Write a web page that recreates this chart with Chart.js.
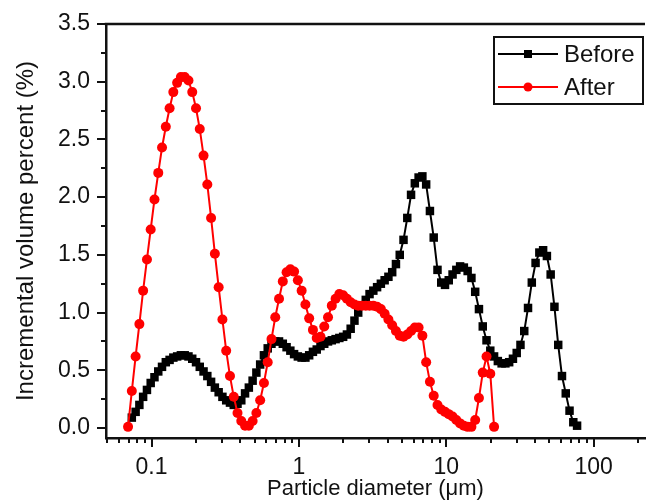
<!DOCTYPE html>
<html>
<head>
<meta charset="utf-8">
<script src="https://cdn.jsdelivr.net/npm/chart.js@4.4.1/dist/chart.umd.min.js"></script>
<style>
  html, body { margin: 0; padding: 0; background: #fff; }
</style>
</head>
<body>
<canvas id="psd" width="651" height="504"></canvas>
<script>
// particle diameter of each channel (um)
const diameters = [
  0.0693, 0.0735, 0.0780, 0.0827, 0.0877, 0.0931, 0.0987, 0.1047, 0.1111, 0.1178,
  0.1250, 0.1326, 0.1406, 0.1492, 0.1582, 0.1679, 0.1781, 0.1889, 0.2004, 0.2125,
  0.2254, 0.2391, 0.2536, 0.2690, 0.2854, 0.3027, 0.3211, 0.3406, 0.3613, 0.3832,
  0.4065, 0.4312, 0.4574, 0.4852, 0.5146, 0.5459, 0.5790, 0.6142, 0.6515, 0.6911,
  0.7331, 0.7776, 0.8248, 0.8749, 0.9275, 0.9838, 1.0435, 1.107, 1.174, 1.245,
  1.321, 1.401, 1.486, 1.576, 1.672, 1.774, 1.881, 1.996, 2.117, 2.245,
  2.382, 2.526, 2.680, 2.842, 3.015, 3.198, 3.392, 3.598, 3.817, 4.049,
  4.295, 4.555, 4.832, 5.126, 5.437, 5.767, 6.118, 6.489, 6.883, 7.302,
  7.745, 8.216, 8.715, 9.244, 9.802, 10.39, 11.03, 11.70, 12.41, 13.16,
  13.96, 14.81, 15.71, 16.66, 17.68, 18.75, 19.89, 21.10, 22.38, 23.74,
  25.18, 26.71, 28.33, 30.05, 31.87, 33.81, 35.86, 38.04, 40.35, 42.80,
  45.40, 48.16, 51.08, 54.18, 57.47, 60.96, 64.66, 68.59, 72.75, 77.17
];

// incremental volume percent, before treatment
const beforeVals = [
  null, 0.09, 0.14, 0.20, 0.27, 0.33, 0.39, 0.44, 0.49, 0.53,
  0.57, 0.59, 0.61, 0.62, 0.63, 0.63, 0.62, 0.60, 0.57, 0.53,
  0.49, 0.45, 0.40, 0.35, 0.31, 0.27, 0.24, 0.22, 0.20, 0.21,
  0.24, 0.30, 0.35, 0.41, 0.48, 0.55, 0.63, 0.69, 0.73, 0.75,
  0.75, 0.73, 0.70, 0.67, 0.64, 0.62, 0.61, 0.61, 0.63, 0.66,
  0.68, 0.71, 0.73, 0.75, 0.76, 0.77, 0.78, 0.79, 0.81, 0.86,
  0.93, 1.00, 1.06, 1.11, 1.16, 1.19, 1.22, 1.25, 1.28, 1.31,
  1.35, 1.42, 1.50, 1.63, 1.82, 2.02, 2.12, 2.17, 2.18, 2.11,
  1.88, 1.65, 1.37, 1.26, 1.24, 1.28, 1.33, 1.37, 1.40, 1.39,
  1.36, 1.30, 1.18, 1.03, 0.88, 0.76, 0.67, 0.62, 0.58, 0.56,
  0.56, 0.57, 0.60, 0.65, 0.72, 0.84, 1.04, 1.26, 1.43, 1.52,
  1.54, 1.49, 1.33, 1.05, 0.72, 0.45, 0.30, 0.15, 0.05, 0.02
];

// incremental volume percent, after treatment
const afterVals = [
  0.01, 0.32, 0.62, 0.90, 1.19, 1.46, 1.72, 1.98, 2.21, 2.43,
  2.61, 2.77, 2.91, 2.99, 3.04, 3.04, 3.01, 2.91, 2.77, 2.59,
  2.36, 2.11, 1.82, 1.51, 1.22, 0.94, 0.67, 0.45, 0.27, 0.13,
  0.06, 0.02, 0.02, 0.06, 0.13, 0.24, 0.39, 0.57, 0.77, 0.96,
  1.12, 1.27, 1.35, 1.375, 1.355, 1.28, 1.19, 1.07, 0.95, 0.85,
  0.78, 0.79, 0.88, 0.96, 1.06, 1.12, 1.16, 1.15, 1.12, 1.09,
  1.07, 1.06, 1.06, 1.06, 1.06, 1.06, 1.05, 1.03, 0.99, 0.94,
  0.89, 0.84, 0.80, 0.79, 0.81, 0.84, 0.87, 0.87, 0.80, 0.57,
  0.40, 0.28, 0.20, 0.16, 0.14, 0.12, 0.10, 0.07, 0.04, 0.02,
  0.01, 0.01, 0.07, 0.26, 0.48, 0.62, 0.47, 0.01
];

const seriesNames = ['Before', 'After'];
const xTickVals = [0.1, 1, 10, 100];
const xMinorVals = [0.05, 0.06, 0.07, 0.08, 0.09, 0.2, 0.3, 0.4, 0.5, 0.6, 0.7, 0.8, 0.9,
  2, 3, 4, 5, 6, 7, 8, 9, 20, 30, 40, 50, 60, 70, 80, 90, 200];
const yTickVals = [0, 0.5, 1.0, 1.5, 2.0, 2.5, 3.0, 3.5];
const yMinorVals = [0.25, 0.75, 1.25, 1.75, 2.25, 2.75, 3.25];

const FONT = "'Liberation Sans', Arial, sans-serif";
const INK = '#111';

function toPoints(vals) {
  const pts = [];
  vals.forEach((v, i) => { if (v !== null) pts.push({ x: diameters[i], y: v }); });
  return pts;
}

// outward tick marks + top frame line
const frame = {
  id: 'frame',
  afterDraw(chart) {
    const { ctx, chartArea: a, scales: { x, y } } = chart;
    ctx.save();
    ctx.strokeStyle = INK;
    ctx.lineWidth = 2.5;
    ctx.beginPath();
    ctx.moveTo(a.left - 1.25, a.top);
    ctx.lineTo(a.right, a.top);
    ctx.stroke();

    ctx.lineWidth = 2;
    ctx.beginPath();
    xTickVals.forEach(v => {
      const px = Math.round(x.getPixelForValue(v));
      ctx.moveTo(px, a.bottom); ctx.lineTo(px, a.bottom + 9);
    });
    xMinorVals.forEach(v => {
      const px = Math.round(x.getPixelForValue(v));
      if (px <= a.left || px > a.right) return;
      ctx.moveTo(px, a.bottom); ctx.lineTo(px, a.bottom + 5);
    });
    yTickVals.forEach(v => {
      const py = Math.round(y.getPixelForValue(v));
      ctx.moveTo(a.left, py); ctx.lineTo(a.left - 9, py);
    });
    yMinorVals.forEach(v => {
      const py = Math.round(y.getPixelForValue(v));
      ctx.moveTo(a.left, py); ctx.lineTo(a.left - 5, py);
    });
    ctx.stroke();
    ctx.restore();
  }
};

// boxed legend in the upper right corner
const boxLegend = {
  id: 'boxLegend',
  afterDraw(chart) {
    const ctx = chart.ctx;
    const left = 494, top = 37, w = 149, h = 67;
    ctx.save();
    ctx.fillStyle = '#fff';
    ctx.fillRect(left, top, w, h);
    ctx.strokeStyle = INK;
    ctx.lineWidth = 2;
    ctx.strokeRect(left, top, w, h);
    ctx.font = '24px ' + FONT;
    ctx.textBaseline = 'middle';
    chart.data.datasets.forEach((ds, i) => {
      const cy = top + 17 + i * 33;
      ctx.strokeStyle = ds.borderColor;
      ctx.lineWidth = 2;
      ctx.beginPath();
      ctx.moveTo(left + 4, cy); ctx.lineTo(left + 64, cy);
      ctx.stroke();
      ctx.fillStyle = ds.backgroundColor;
      if (ds.pointStyle === 'rect') {
        ctx.fillRect(left + 30, cy - 4, 8, 8);
      } else {
        ctx.beginPath();
        ctx.arc(left + 34, cy, 4.5, 0, Math.PI * 2);
        ctx.fill();
      }
      ctx.fillStyle = INK;
      ctx.fillText(ds.label, left + 70, cy + 1);
    });
    ctx.restore();
  }
};

new Chart(document.getElementById('psd'), {
  type: 'line',
  data: {
    datasets: [
      {
        label: seriesNames[0],
        data: toPoints(beforeVals),
        borderColor: '#000',
        backgroundColor: '#000',
        borderWidth: 2,
        pointStyle: 'rect',
        pointRadius: 6,
        pointBorderWidth: 0,
        order: 2
      },
      {
        label: seriesNames[1],
        data: toPoints(afterVals),
        borderColor: '#ff0000',
        backgroundColor: '#ff0000',
        borderWidth: 2,
        pointStyle: 'circle',
        pointRadius: 5,
        pointBorderWidth: 0,
        order: 1
      }
    ]
  },
  options: {
    responsive: false,
    animation: false,
    layout: { padding: { top: 24, right: 0, left: 0, bottom: 0 } },
    plugins: { legend: { display: false }, tooltip: { enabled: false } },
    scales: {
      x: {
        type: 'logarithmic',
        min: 0.0491,
        max: 223,
        afterBuildTicks: s => { s.ticks = xTickVals.map(v => ({ value: v, major: true })); },
        afterFit: s => { s.height = 66; s.paddingLeft = 0; s.paddingRight = 0; },
        grid: { drawOnChartArea: false, drawTicks: false },
        border: { color: INK, width: 2.5 },
        ticks: {
          color: INK, font: { family: FONT, size: 23 }, padding: 16,
          maxRotation: 0, autoSkip: false,
          callback: v => String(v)
        },
        title: {
          display: true, text: 'Particle diameter (μm)', color: INK,
          font: { family: FONT, size: 22 }, padding: { top: 0, bottom: 2 }
        }
      },
      y: {
        min: -0.0866,
        max: 3.5,
        afterBuildTicks: s => { s.ticks = yTickVals.map(v => ({ value: v })); },
        afterFit: s => { s.width = 106; s.paddingTop = 0; s.paddingBottom = 0; },
        grid: { drawOnChartArea: false, drawTicks: false },
        border: { color: INK, width: 2.5 },
        ticks: {
          color: INK, font: { family: FONT, size: 23 }, padding: 16,
          callback: v => v.toFixed(1)
        },
        title: {
          display: true, text: 'Incremental volume percent (%)', color: INK,
          font: { family: FONT, size: 24 }, padding: { top: 12, bottom: 0 }
        }
      }
    }
  },
  plugins: [frame, boxLegend]
});
</script>
</body>
</html>
